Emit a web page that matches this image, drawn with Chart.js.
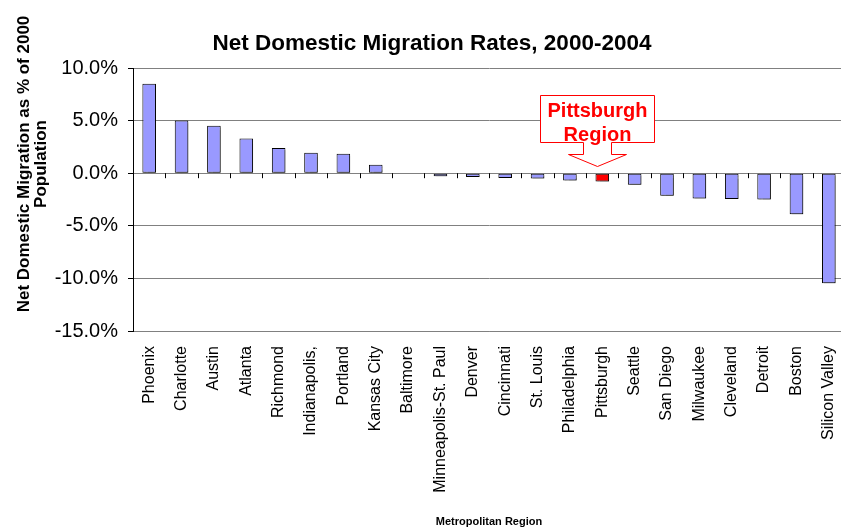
<!DOCTYPE html>
<html>
<head>
<meta charset="utf-8">
<script src="https://cdn.jsdelivr.net/npm/chart.js@4"></script>
<style>
  html, body { margin: 0; padding: 0; background: #fff; overflow: hidden; }
  #wrap { width: 841px; height: 529px; overflow: hidden; }
</style>
</head>
<body>
<div id="wrap"><canvas id="c" width="864" height="529"></canvas></div>
<script>
var regions = ['Phoenix', 'Charlotte', 'Austin', 'Atlanta', 'Richmond', 'Indianapolis,',
    'Portland', 'Kansas City', 'Baltimore', 'Minneapolis-St. Paul', 'Denver', 'Cincinnati',
    'St. Louis', 'Philadelphia', 'Pittsburgh', 'Seattle', 'San Diego', 'Milwaukee',
    'Cleveland', 'Detroit', 'Boston', 'Silicon Valley'];
// net domestic migration 2000-2004, % of 2000 population
var migration = [8.5, 5.0, 4.5, 3.3, 2.4, 1.95, 1.85, 0.8, 0.05, -0.3, -0.35, -0.45,
    -0.5, -0.7, -0.8, -1.1, -2.15, -2.4, -2.45, -2.5, -3.9, -10.45];
var yTicks = [-15, -10, -5, 0, 5, 10];
var highlight = 'Pittsburgh';
var calloutText = ['Pittsburgh', 'Region'];

Chart.defaults.font.family = "'Liberation Sans', Arial, sans-serif";
Chart.defaults.color = '#000';

// small tick marks where the category axis crosses zero
var zeroTicks = {
    id: 'zeroTicks',
    afterDatasetsDraw: function (chart) {
        var x = chart.scales.x, y = chart.scales.y, ctx = chart.ctx;
        var y0 = y.getPixelForValue(0);
        ctx.save();
        ctx.strokeStyle = '#000';
        ctx.lineWidth = 1;
        ctx.beginPath();
        for (var i = 1; i < regions.length; i++) {
            var bx = Math.round((x.getPixelForValue(i - 1) + x.getPixelForValue(i)) / 2) + 0.5;
            ctx.moveTo(bx, y0);
            ctx.lineTo(bx, y0 + 5);
        }
        ctx.stroke();
        ctx.restore();
    }
};

// light drop shadow under the bars
var barShadow = {
    id: 'barShadow',
    beforeDatasetsDraw: function (chart) {
        var ctx = chart.ctx;
        ctx.save();
        ctx.shadowColor = 'rgba(0,0,0,0.3)';
        ctx.shadowOffsetX = 2;
        ctx.shadowOffsetY = 2;
        ctx.shadowBlur = 1;
    },
    afterDatasetsDraw: function (chart) {
        chart.ctx.restore();
    }
};

// two-line y axis title, set a bit above the plot centre
var yTitle = {
    id: 'yTitle',
    afterDraw: function (chart) {
        var ctx = chart.ctx;
        ctx.save();
        ctx.translate(24, 164);
        ctx.rotate(-Math.PI / 2);
        ctx.font = "bold 17px 'Liberation Sans', Arial, sans-serif";
        ctx.fillStyle = '#000';
        ctx.textAlign = 'center';
        ctx.textBaseline = 'middle';
        ctx.fillText('Net Domestic Migration as % of 2000', 0, 0);
        ctx.fillText('Population', 0, 17);
        ctx.restore();
    }
};

// down-arrow callout pointing at the highlighted bar
var callout = {
    id: 'callout',
    afterDraw: function (chart) {
        var x = chart.scales.x, y = chart.scales.y, ctx = chart.ctx;
        var ax = Math.round(x.getPixelForValue(regions.indexOf(highlight))) - 4.5;
        var tip = Math.round(y.getPixelForValue(0)) - 6.5;
        var headY = tip - 12, boxB = headY - 12, boxT = boxB - 47;
        ctx.save();
        ctx.beginPath();
        ctx.moveTo(ax - 57, boxT);
        ctx.lineTo(ax + 57, boxT);
        ctx.lineTo(ax + 57, boxB);
        ctx.lineTo(ax + 14, boxB);
        ctx.lineTo(ax + 14, headY);
        ctx.lineTo(ax + 29, headY);
        ctx.lineTo(ax, tip);
        ctx.lineTo(ax - 29, headY);
        ctx.lineTo(ax - 14, headY);
        ctx.lineTo(ax - 14, boxB);
        ctx.lineTo(ax - 57, boxB);
        ctx.closePath();
        ctx.fillStyle = '#fff';
        ctx.fill();
        ctx.strokeStyle = '#ff0000';
        ctx.lineWidth = 1;
        ctx.stroke();
        ctx.fillStyle = '#ff0000';
        ctx.font = "bold 20px 'Liberation Sans', Arial, sans-serif";
        ctx.textAlign = 'center';
        ctx.textBaseline = 'alphabetic';
        ctx.fillText(calloutText[0], ax, boxT + 21);
        ctx.fillText(calloutText[1], ax, boxT + 45);
        ctx.restore();
    }
};

var ctx = document.getElementById('c').getContext('2d');
var myBarChart = new Chart(ctx, {
    type: 'bar',
    data: {
        labels: regions,
        datasets: [{
            data: migration,
            backgroundColor: regions.map(function (r) { return r === highlight ? '#ff0000' : '#9999ff'; }),
            borderColor: '#000',
            borderWidth: 1,
            borderSkipped: false,
            barPercentage: 0.42,
            categoryPercentage: 1
        }]
    },
    plugins: [barShadow, zeroTicks, yTitle, callout],
    options: {
        responsive: false,
        animation: false,
        devicePixelRatio: 1,
        layout: { padding: 0 },
        plugins: {
            legend: { display: false },
            tooltip: { enabled: false },
            title: {
                display: true,
                text: 'Net Domestic Migration Rates, 2000-2004',
                color: '#000',
                font: { size: 22.5, weight: 'bold' },
                padding: { top: 30, bottom: 11 }
            }
        },
        scales: {
            x: {
                grid: { display: false },
                border: { display: true, color: '#808080', width: 1 },
                ticks: {
                    autoSkip: false,
                    minRotation: 90,
                    maxRotation: 90,
                    padding: 7,
                    color: '#000',
                    font: { size: 16 }
                },
                title: {
                    display: true,
                    text: 'Metropolitan Region',
                    color: '#000',
                    font: { size: 11, weight: 'bold' },
                    padding: 0
                },
                afterFit: function (s) {
                    s.height = 198;
                    s.paddingLeft = 0;
                    s.paddingRight = 19;
                }
            },
            y: {
                min: yTicks[0],
                max: yTicks[yTicks.length - 1],
                afterBuildTicks: function (s) {
                    s.ticks = yTicks.map(function (v) { return { value: v }; });
                },
                grid: { color: '#808080', tickColor: '#000', tickLength: 5 },
                border: { color: '#000', width: 1 },
                ticks: {
                    padding: 10,
                    color: '#000',
                    font: { size: 20 },
                    callback: function (v) { return v.toFixed(1) + '%'; }
                },
                afterFit: function (s) { s.width = 133; }
            }
        }
    }
});
</script>
</body>
</html>
